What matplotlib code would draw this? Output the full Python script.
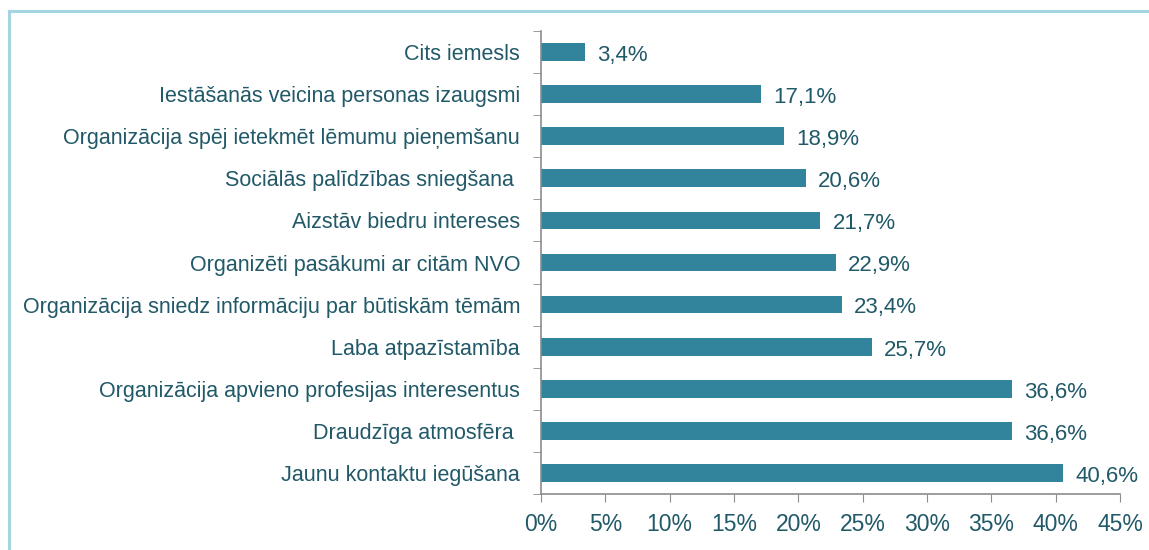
import matplotlib
matplotlib.use("Agg")
import matplotlib.pyplot as plt
from matplotlib.lines import Line2D
from matplotlib.ticker import FixedLocator
from matplotlib import font_manager

categories = [
    "Jaunu kontaktu iegūšana",
    "Draudzīga atmosfēra ",
    "Organizācija apvieno profesijas interesentus",
    "Laba atpazīstamība",
    "Organizācija sniedz informāciju par būtiskām tēmām",
    "Organizēti pasākumi ar citām NVO",
    "Aizstāv biedru intereses",
    "Sociālās palīdzības sniegšana ",
    "Organizācija spēj ietekmēt lēmumu pieņemšanu",
    "Iestāšanās veicina personas izaugsmi",
    "Cits iemesls",
]
values = [40.6, 36.6, 36.6, 25.7, 23.4, 22.9, 21.7, 20.6, 18.9, 17.1, 3.4]
x_ticks = [0, 5, 10, 15, 20, 25, 30, 35, 40, 45]

bar_color = "#31849B"
text_color = "#215968"
axis_color = "#8C8C8C"
frame_color = "#A5D5E2"

names = {f.name for f in font_manager.fontManager.ttflist}
narrow = "Liberation Sans Narrow" if "Liberation Sans Narrow" in names else "Liberation Sans"
plt.rcParams["font.family"] = [narrow, "DejaVu Sans"]

fig = plt.figure(figsize=(11.49, 5.5), dpi=100)
ax = fig.add_axes([0.4708, 0.1018, 0.9748 - 0.4708, 0.9436 - 0.1018])

ypos = list(range(len(categories)))
ax.barh(ypos, values, height=0.42, color=bar_color)

for y, v in zip(ypos, values):
    ax.text(v + 0.95, y - 0.08, f"{v:.1f}%".replace(".", ","), va="center", ha="left",
            fontsize=16, color=text_color)

ax.set_xlim(0, 45)
ax.set_ylim(-0.5, len(categories) - 0.5)
ax.set_xticks(x_ticks)
ax.set_xticklabels([f"{t}%" for t in x_ticks], fontsize=16.5, color=text_color)
ax.set_yticks(ypos)
ax.set_yticklabels(categories, fontsize=15.5, color=text_color)
ax.tick_params(axis="y", which="major", length=0, pad=15)
ax.yaxis.set_minor_locator(FixedLocator([y + 0.5 for y in range(-1, len(categories))]))
ax.tick_params(axis="y", which="minor", length=6, color=axis_color, direction="out")
ax.tick_params(axis="x", length=6, color=axis_color, direction="out", pad=8)

for side in ["top", "right"]:
    ax.spines[side].set_visible(False)
for side in ["left", "bottom"]:
    ax.spines[side].set_color(axis_color)
    ax.spines[side].set_linewidth(1.2)

# light blue frame along top and left edges
fig.add_artist(Line2D([9 / 1149, 1.0], [1 - 11 / 550, 1 - 11 / 550],
                      transform=fig.transFigure, color=frame_color, lw=2.2))
fig.add_artist(Line2D([9 / 1149, 9 / 1149], [0.0, 1 - 11 / 550],
                      transform=fig.transFigure, color=frame_color, lw=2.2))

fig.savefig("out.png", dpi=100)
